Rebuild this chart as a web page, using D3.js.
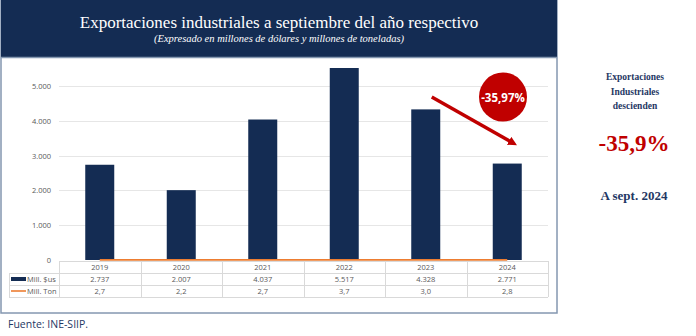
<!DOCTYPE html>
<html>
<head>
<meta charset="utf-8">
<script src="https://cdn.jsdelivr.net/npm/d3@7/dist/d3.min.js"></script>
<style>
  html, body { margin: 0; padding: 0; background: #fff; }
  svg { display: block; }
</style>
</head>
<body>
<svg id="chart" width="696" height="336"></svg>
<script>
// Exportaciones industriales, enero-septiembre de cada año
const years = ["2019", "2020", "2021", "2022", "2023", "2024"];
const millUsd = [2737, 2007, 4037, 5517, 4328, 2771];
const millTon = [2.7, 2.2, 2.7, 3.7, 3.0, 2.8];
const yTicks = [0, 1000, 2000, 3000, 4000, 5000];
const changeLabel = "-35,97%";
const sideLines = ["Exportaciones", "Industriales", "descienden"];
const sideValue = "-35,9%";
const sideDate = "A sept. 2024";

const navy = "#142c53";
const red = "#c00000";
const orange = "#ed7d31";
const grid = "#e6e6e6";
const txtGray = "#595959";
const serif = "'Liberation Serif', 'DejaVu Serif', serif";
const sans = "'Open Sans', 'Liberation Sans', sans-serif";

const svg = d3.select("#chart");
const fmt = d3.formatLocale({ decimal: ",", thousands: ".", grouping: [3], currency: ["", ""] });
const fInt = fmt.format(",.0f");
const fDec = fmt.format(".1f");

// Outer frame and header band
svg.append("rect").attr("x", 1).attr("y", 0).attr("width", 556).attr("height", 313)
  .attr("fill", "#fff").attr("stroke", "#8497b0").attr("stroke-width", 1.5);
svg.append("rect").attr("x", 1).attr("y", 0).attr("width", 556).attr("height", 57)
  .attr("fill", navy);
svg.append("line").attr("x1", 1).attr("x2", 557).attr("y1", 57.5).attr("y2", 57.5)
  .attr("stroke", "#8497b0").attr("stroke-width", 1.5);

svg.append("text").attr("x", 279).attr("y", 28).attr("text-anchor", "middle")
  .attr("font-family", serif).attr("font-size", 17).attr("fill", "#fff")
  .text("Exportaciones industriales a septiembre del año respectivo");
svg.append("text").attr("x", 279).attr("y", 42).attr("text-anchor", "middle")
  .attr("font-family", serif).attr("font-style", "italic").attr("font-size", 10.5).attr("fill", "#fff")
  .text("(Expresado en millones de dólares y millones de toneladas)");

// Scales
const plotL = 59, plotR = 548;
const x = d3.scaleBand().domain(years).range([plotL, plotR]).paddingInner(0).paddingOuter(0);
const y = d3.scaleLinear().domain([0, 5000]).range([260, 86]);
const barW = 29;
const cx = d => x(d) + x.bandwidth() / 2;

// Gridlines and value axis
const yAxis = d3.axisLeft(y).tickValues(yTicks).tickFormat(d => fInt(d)).tickSize(0).tickPadding(8);
const gy = svg.append("g").attr("transform", `translate(${plotL},0)`).call(yAxis);
gy.select(".domain").remove();
gy.selectAll("text").attr("font-family", sans).attr("font-size", 7.5).attr("fill", txtGray);

svg.append("g").selectAll("line").data(yTicks.filter(d => d > 0)).join("line")
  .attr("x1", plotL).attr("x2", plotR)
  .attr("y1", d => Math.round(y(d)) + 0.5).attr("y2", d => Math.round(y(d)) + 0.5)
  .attr("stroke", grid).attr("stroke-width", 1);

// Bars
svg.append("g").selectAll("rect").data(years).join("rect")
  .attr("x", d => cx(d) - barW / 2)
  .attr("width", barW)
  .attr("y", (d, i) => y(millUsd[i]))
  .attr("height", (d, i) => y(0) - y(millUsd[i]))
  .attr("fill", navy);

// Tonnage series on the same axis
const line = d3.line().x((d, i) => cx(years[i])).y(d => y(d));
svg.append("path").datum(millTon).attr("d", line)
  .attr("fill", "none").attr("stroke", orange).attr("stroke-width", 1.6);

// Data table below the axis
const rowY = [261, 273, 285, 297];
const tableL = 9;
const tg = svg.append("g");
tg.append("line").attr("x1", plotL).attr("x2", plotR).attr("y1", rowY[0] + 0.5).attr("y2", rowY[0] + 0.5)
  .attr("stroke", "#d9d9d9");
[1, 2, 3].forEach(r => {
  tg.append("line").attr("x1", tableL).attr("x2", plotR).attr("y1", rowY[r] + 0.5).attr("y2", rowY[r] + 0.5)
    .attr("stroke", "#d9d9d9");
});
const vx = years.map(d => x(d)).concat([plotR]);
tg.selectAll("line.v").data(vx).join("line").attr("class", "v")
  .attr("x1", d => Math.round(d) + 0.5).attr("x2", d => Math.round(d) + 0.5)
  .attr("y1", rowY[0]).attr("y2", rowY[3]).attr("stroke", "#d9d9d9");
tg.append("line").attr("x1", tableL + 0.5).attr("x2", tableL + 0.5)
  .attr("y1", rowY[1]).attr("y2", rowY[3]).attr("stroke", "#d9d9d9");

const rows = [years, millUsd.map(fInt), millTon.map(fDec)];
rows.forEach((vals, r) => {
  tg.selectAll(null).data(vals).join("text")
    .attr("x", (d, i) => cx(years[i]))
    .attr("y", rowY[r] + 9)
    .attr("text-anchor", "middle")
    .attr("font-family", sans).attr("font-size", 7.5).attr("fill", txtGray)
    .text(d => d);
});
// legend keys in the row headers
tg.append("rect").attr("x", 11).attr("y", rowY[1] + 4).attr("width", 15).attr("height", 4).attr("fill", navy);
tg.append("text").attr("x", 27).attr("y", rowY[1] + 9).attr("font-family", sans).attr("font-size", 7.5)
  .attr("fill", txtGray).text("Mill. $us");
tg.append("line").attr("x1", 11).attr("x2", 26).attr("y1", rowY[2] + 6).attr("y2", rowY[2] + 6)
  .attr("stroke", orange).attr("stroke-width", 1.6);
tg.append("text").attr("x", 27).attr("y", rowY[2] + 9).attr("font-family", sans).attr("font-size", 7.5)
  .attr("fill", txtGray).text("Mill. Ton");

// Change arrow between 2023 and 2024
const defs = svg.append("defs");
defs.append("marker").attr("id", "arrowHead").attr("viewBox", "0 0 10 10")
  .attr("refX", 4).attr("refY", 5).attr("markerWidth", 2.6).attr("markerHeight", 2.6)
  .attr("orient", "auto").attr("markerUnits", "strokeWidth")
  .append("path").attr("d", "M0,0 L10,5 L0,10 Z").attr("fill", red);
svg.append("line")
  .attr("x1", cx("2023") + 6).attr("y1", y(5000) + 11)
  .attr("x2", cx("2024") + 5).attr("y2", y(3000) - 13)
  .attr("stroke", red).attr("stroke-width", 3.5).attr("marker-end", "url(#arrowHead)");

svg.append("ellipse").attr("cx", 503).attr("cy", 97).attr("rx", 24).attr("ry", 24.5).attr("fill", red);
svg.append("text").attr("x", 503).attr("y", 101.5).attr("text-anchor", "middle")
  .attr("font-family", sans).attr("font-weight", "bold").attr("font-size", 11.5).attr("fill", "#fff")
  .text(changeLabel);

// Side note
const side = svg.append("g").attr("font-family", serif).attr("text-anchor", "middle");
side.selectAll("text.l").data(sideLines).join("text").attr("class", "l")
  .attr("x", 635).attr("y", (d, i) => 80 + i * 14.5)
  .attr("font-size", 9.5).attr("font-weight", "bold").attr("fill", "#1f3864").text(d => d);
side.append("text").attr("x", 634).attr("y", 151).attr("font-size", 23).attr("font-weight", "bold")
  .attr("fill", red).text(sideValue);
side.append("text").attr("x", 634).attr("y", 200).attr("font-size", 13).attr("font-weight", "bold")
  .attr("fill", "#1f3864").text(sideDate);

// Source
svg.append("text").attr("x", 8).attr("y", 328).attr("font-family", sans).attr("font-size", 10.5)
  .attr("fill", "#1f3864").text("Fuente: INE-SIIP.");
</script>
</body>
</html>
